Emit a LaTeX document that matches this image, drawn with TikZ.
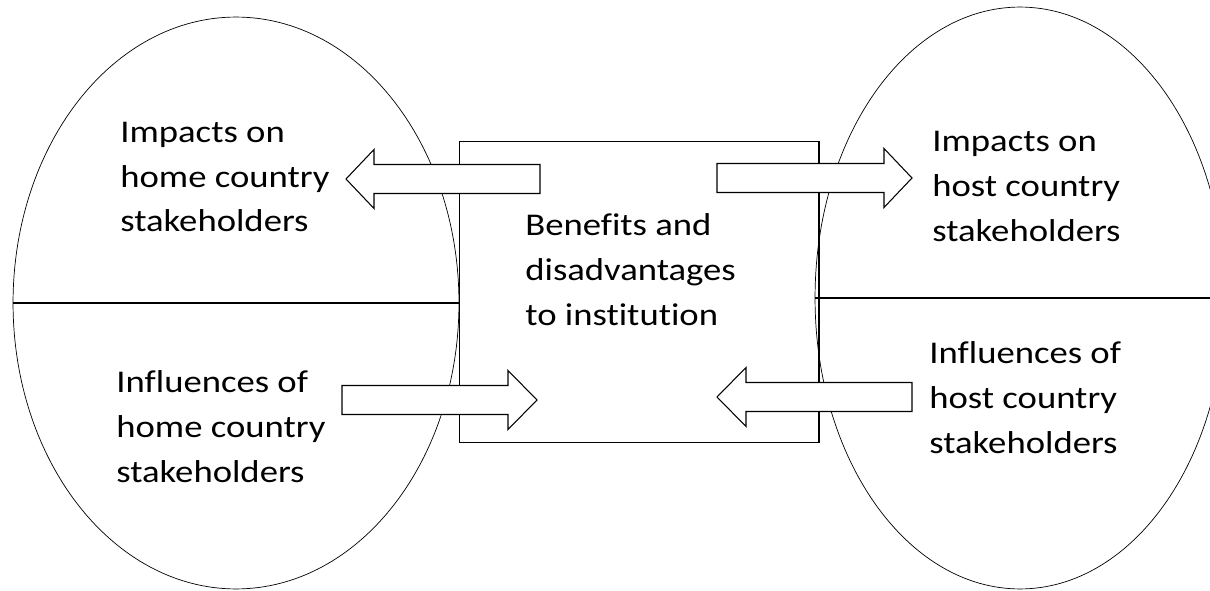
\documentclass[tikz,border=0pt]{standalone}
\usepackage{fontspec}
\setmainfont{Carlito}[FakeStretch=1.16,Ligatures=NoCommon]
\usepackage{tikz}
\usetikzlibrary{shapes.geometric,positioning}

\tikzset{
  side/.style={draw,ellipse,line width=0.4pt,inner sep=0pt,outer sep=0pt},
  divider/.style={line width=1pt},
  words/.style={align=left,anchor=base west,inner sep=0pt,font=\fontsize{18}{25.5}\selectfont},
  blockarrow/.style={draw,fill=white,line width=0.6pt,line join=miter},
}

\begin{document}
\begin{tikzpicture}[x=0.02cm,y=-0.02cm]
  \useasboundingbox (0,0) rectangle (1210,591);
  \clip (0,0) rectangle (1210,591);
  % the two stakeholder groups
  \node[side,minimum width=8.92cm,minimum height=11.44cm] (home) at (236,303) {};
  \node[side,minimum width=8.2cm,minimum height=11.64cm] (host) at (1020,298) {};
  \draw[divider] (home.west) -- (home.east);
  \draw[divider] (host.west) -- (host.east);
  % the institution in the middle
  \node[draw,line width=0.6pt,minimum width=7.2cm,minimum height=6.04cm,inner sep=0pt] (inst) at (639,292) {};
  % block arrows: tail x / head base x / tip x / y
  \foreach \xt/\xh/\xp/\y in {540/374/346/179,717/884/912/178,342/508/537/400,912/746/717/397}{
    \draw[blockarrow] (\xt,\y-14.5) -- (\xh,\y-14.5) -- (\xh,\y-29.5) -- (\xp,\y)
      -- (\xh,\y+29.5) -- (\xh,\y+14.5) -- (\xt,\y+14.5) -- cycle;
  }
  % base of each text is its last line
  \node[words] (homeimpact) at (120,232) {Impacts on\\home country\\stakeholders};
  \node[words] (homeinfl) at (116,482) {Influences of\\home country\\stakeholders};
  \node[words] (hostimpact) at (932,241) {Impacts on\\host country\\stakeholders};
  \node[words] (hostinfl) at (929,453) {Influences of\\host country\\stakeholders};
  \node[words] (insttext) at (525,325) {Benefits and\\disadvantages\\to institution};
\end{tikzpicture}
\end{document}
